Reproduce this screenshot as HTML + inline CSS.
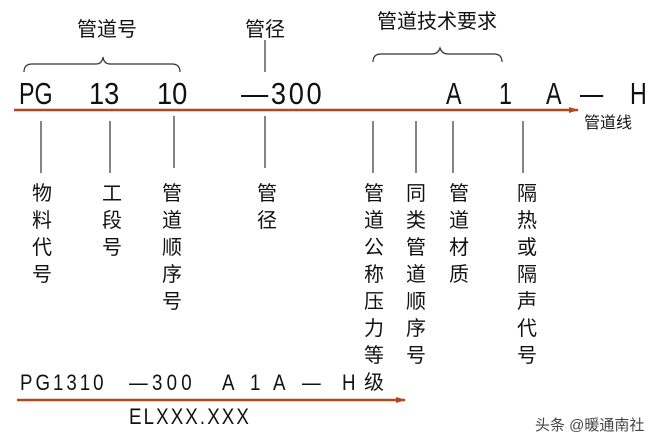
<!DOCTYPE html>
<html><head><meta charset="utf-8"><style>
body{margin:0;background:#fff}
svg{display:block}
text{font-family:"Liberation Sans","Noto Sans CJK SC",sans-serif;fill:#111}
.c{font-size:20px;text-anchor:middle}
</style></head><body>
<svg width="666" height="445" viewBox="0 0 666 445" xmlns="http://www.w3.org/2000/svg">
<defs><marker id="ar" markerWidth="10" markerHeight="8" refX="9" refY="4" orient="auto" markerUnits="userSpaceOnUse"><path d="M0,1 L10,4 L0,7 z" fill="#b04a1c"/></marker></defs>
<g stroke="#333" fill="none" stroke-width="1.2">
<path d="M24,72 Q24,64 32,64 L96,64 Q102,64 103,57 Q104,64 110,64 L172,64 Q180,64 180,72"/>
<path d="M373,62 Q373,54 381,54 L432,54 Q438,54 440,48 Q442,54 448,54 L494,54 Q502,54 502,62"/>
<line x1="265" y1="40" x2="265" y2="72"/>
<line x1="41" y1="121" x2="41" y2="173"/>
<line x1="110" y1="121" x2="110" y2="173"/>
<line x1="174" y1="116" x2="174" y2="168"/>
<line x1="265" y1="116" x2="265" y2="168"/>
<line x1="373" y1="121" x2="373" y2="173"/>
<line x1="416" y1="121" x2="416" y2="173"/>
<line x1="453" y1="121" x2="453" y2="173"/>
<line x1="523" y1="121" x2="523" y2="173"/>
</g>
<line x1="14" y1="110" x2="578" y2="110" stroke="#b04a1c" stroke-width="2.5" marker-end="url(#ar)"/>
<line x1="17" y1="400" x2="405" y2="400" stroke="#b04a1c" stroke-width="2.5" marker-end="url(#ar)"/>
<text class="c" x="107" y="36">管道号</text>
<text class="c" x="265" y="36">管径</text>
<text class="c" x="437" y="28">管道技术要求</text>
<text x="584" y="128" style="font-size:16px">管道线</text>
<g style="font-size:31px">
<text transform="translate(19,104) scale(0.75,1)">PG</text>
<text transform="translate(89,104) scale(0.88,1)">13</text>
<text transform="translate(157,104) scale(0.88,1)">10</text>
<text transform="translate(241,104) scale(0.88,1)" style="letter-spacing:3px">—300</text>
<text transform="translate(446,104) scale(0.75,1)">A</text>
<text transform="translate(499,104) scale(0.75,1)">1</text>
<text transform="translate(546,104) scale(0.75,1)">A</text>
<text transform="translate(580,104) scale(0.75,1)">—</text>
<text transform="translate(630,104) scale(0.75,1)">H</text>
</g>
<text class="c" x="42" y="200">物</text><text class="c" x="42" y="227">料</text><text class="c" x="42" y="254">代</text><text class="c" x="42" y="281">号</text>
<text class="c" x="112" y="200">工</text><text class="c" x="112" y="227">段</text><text class="c" x="112" y="254">号</text>
<text class="c" x="172" y="200">管</text><text class="c" x="172" y="227">道</text><text class="c" x="172" y="254">顺</text><text class="c" x="172" y="281">序</text><text class="c" x="172" y="308">号</text>
<text class="c" x="267" y="200">管</text><text class="c" x="267" y="227">径</text>
<text class="c" x="374" y="200">管</text><text class="c" x="374" y="227">道</text><text class="c" x="374" y="254">公</text><text class="c" x="374" y="281">称</text><text class="c" x="374" y="308">压</text><text class="c" x="374" y="335">力</text><text class="c" x="374" y="362">等</text><text class="c" x="374" y="389">级</text>
<text class="c" x="416" y="200">同</text><text class="c" x="416" y="227">类</text><text class="c" x="416" y="254">管</text><text class="c" x="416" y="281">道</text><text class="c" x="416" y="308">顺</text><text class="c" x="416" y="335">序</text><text class="c" x="416" y="362">号</text>
<text class="c" x="459" y="200">管</text><text class="c" x="459" y="227">道</text><text class="c" x="459" y="254">材</text><text class="c" x="459" y="281">质</text>
<text class="c" x="527" y="200">隔</text><text class="c" x="527" y="227">热</text><text class="c" x="527" y="254">或</text><text class="c" x="527" y="281">隔</text><text class="c" x="527" y="308">声</text><text class="c" x="527" y="335">代</text><text class="c" x="527" y="362">号</text>
<g style="font-size:22px">
<text transform="translate(20,390) scale(0.85,1)" style="letter-spacing:3.5px">PG1310</text>
<text transform="translate(129,390) scale(0.85,1)" style="letter-spacing:5px">—300</text>
<text transform="translate(222,390) scale(0.85,1)">A</text>
<text transform="translate(250,390) scale(0.85,1)">1</text>
<text transform="translate(273,390) scale(0.85,1)">A</text>
<text transform="translate(302,390) scale(0.85,1)">—</text>
<text transform="translate(342,390) scale(0.85,1)">H</text>
<text transform="translate(129,424) scale(0.85,1)" style="letter-spacing:2.5px">ELXXX.XXX</text>
</g>
<text x="535" y="430" style="font-size:15px;fill:#444">头条 @暖通南社</text>
</svg>
</body></html>
